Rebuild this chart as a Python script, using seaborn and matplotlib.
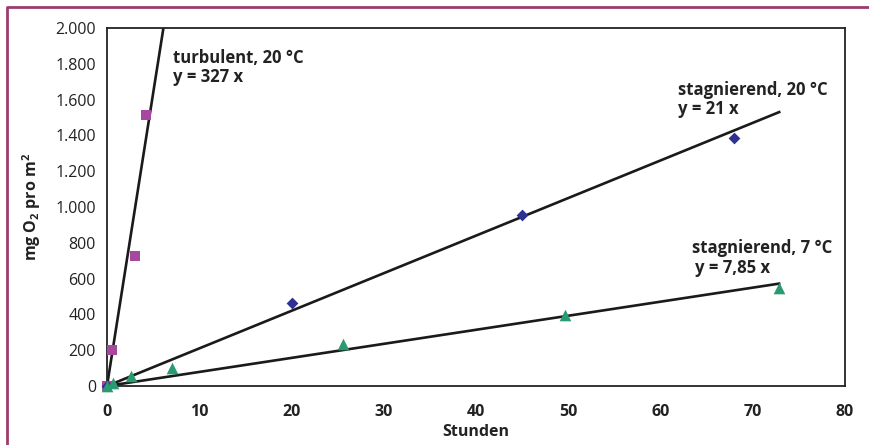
import matplotlib
matplotlib.use("Agg")
import matplotlib.pyplot as plt
import matplotlib.lines as mlines
import numpy as np
import pandas as pd
import seaborn as sns

# ---- data ----
turb_x = [0.0, 0.55, 3.0, 4.2]
turb_y = [0, 200, 728, 1515]
stag20_x = [0.0, 20.0, 45.0, 68.0]
stag20_y = [0, 465, 958, 1388]
stag7_x = [0.0, 0.65, 2.6, 7.0, 25.6, 49.6, 72.8]
stag7_y = [0, 18, 55, 100, 235, 398, 547]

fit_slopes = [327, 21, 7.85]
fit_xmax = [6.5, 73, 73]

x_ticks = [0, 10, 20, 30, 40, 50, 60, 70, 80]
y_ticks = [0, 200, 400, 600, 800, 1000, 1200, 1400, 1600, 1800, 2000]
y_ticklabels = ["0", "200", "400", "600", "800", "1.000", "1.200", "1.400",
                "1.600", "1.800", "2.000"]

labels = [("turbulent, 20 °C", "y = 327 x"),
          ("stagnierend, 20 °C", "y = 21 x"),
          ("stagnierend, 7 °C", "y = 7,85 x")]

sns.set_style("white")
plt.rcParams['font.family'] = ['Open Sans', 'DejaVu Sans']
plt.rcParams['mathtext.fontset'] = 'custom'
plt.rcParams['mathtext.rm'] = 'Open Sans'
plt.rcParams['mathtext.bf'] = 'Open Sans:bold'
plt.rcParams['mathtext.it'] = 'Open Sans:italic'

fig = plt.figure(figsize=(8.7, 4.45), dpi=100)
ax = fig.add_axes([107/870, 1-386/445, (845-107)/870, (386-28)/445])

# fitted lines
for s, xm in zip(fit_slopes, fit_xmax):
    xs = np.array([0.0, xm])
    ax.plot(xs, s * xs, color="#1a1a1a", lw=1.9, zorder=2, solid_capstyle='butt')

df = pd.concat([
    pd.DataFrame({"x": turb_x, "y": turb_y, "s": "turb"}),
    pd.DataFrame({"x": stag20_x, "y": stag20_y, "s": "stag20"}),
    pd.DataFrame({"x": stag7_x, "y": stag7_y, "s": "stag7"}),
])
pal = {"turb": "#a8479e", "stag20": "#2e3192", "stag7": "#2a9a70"}
marks = {"turb": "s", "stag20": "D", "stag7": "^"}
sizes = {"turb": 50, "stag20": 36, "stag7": 70}
for key in ["turb", "stag20", "stag7"]:
    sub = df[df.s == key]
    sns.scatterplot(data=sub, x="x", y="y", color=pal[key], marker=marks[key],
                    s=sizes[key], linewidth=0, ax=ax, zorder=3, clip_on=False)

ax.set_xlim(0, 80)
ax.set_ylim(0, 2000)
ax.set_xticks(x_ticks)
ax.set_xticklabels([str(t) for t in x_ticks], fontweight='bold', fontsize=11.5)
ax.set_yticks(y_ticks)
ax.set_yticklabels(y_ticklabels, fontsize=11.5)
ax.tick_params(axis='both', direction='out', length=5, width=1, color='#333333',
               labelcolor='#222222')
ax.tick_params(axis='x', pad=8)
ax.tick_params(axis='y', pad=3)
for sp in ax.spines.values():
    sp.set_visible(True)
    sp.set_color('#222222')
    sp.set_linewidth(1.3)

ax.set_xlabel("Stunden", fontweight='bold', fontsize=11.5, labelpad=3, color='#222222')
ax.set_ylabel(r"mg O$_\mathbf{2}$ pro m$^\mathbf{2}$", fontweight='bold', fontsize=11.5,
              labelpad=9, color='#222222')

# annotations
ann = [((7.15, 1804), (7.15, 1700)),
       ((61.9, 1626), (61.9, 1520)),
       ((63.4, 743), (63.7, 631))]
for (l1, l2), ((x1, y1), (x2, y2)) in zip(labels, ann):
    ax.text(x1, y1, l1, fontweight='bold', fontsize=12, va='baseline', ha='left',
            color='#222222')
    ax.text(x2, y2, l2, fontweight='bold', fontsize=12, va='baseline', ha='left',
            color='#222222')

# outer frame (top and left)
frame_col = "#9b3d6b"
fig.add_artist(mlines.Line2D([7/870, 7/870, 1.0], [0.0, 1-7/445, 1-7/445],
                             transform=fig.transFigure, color=frame_col, lw=2.0))

fig.savefig("out.png", dpi=100)
